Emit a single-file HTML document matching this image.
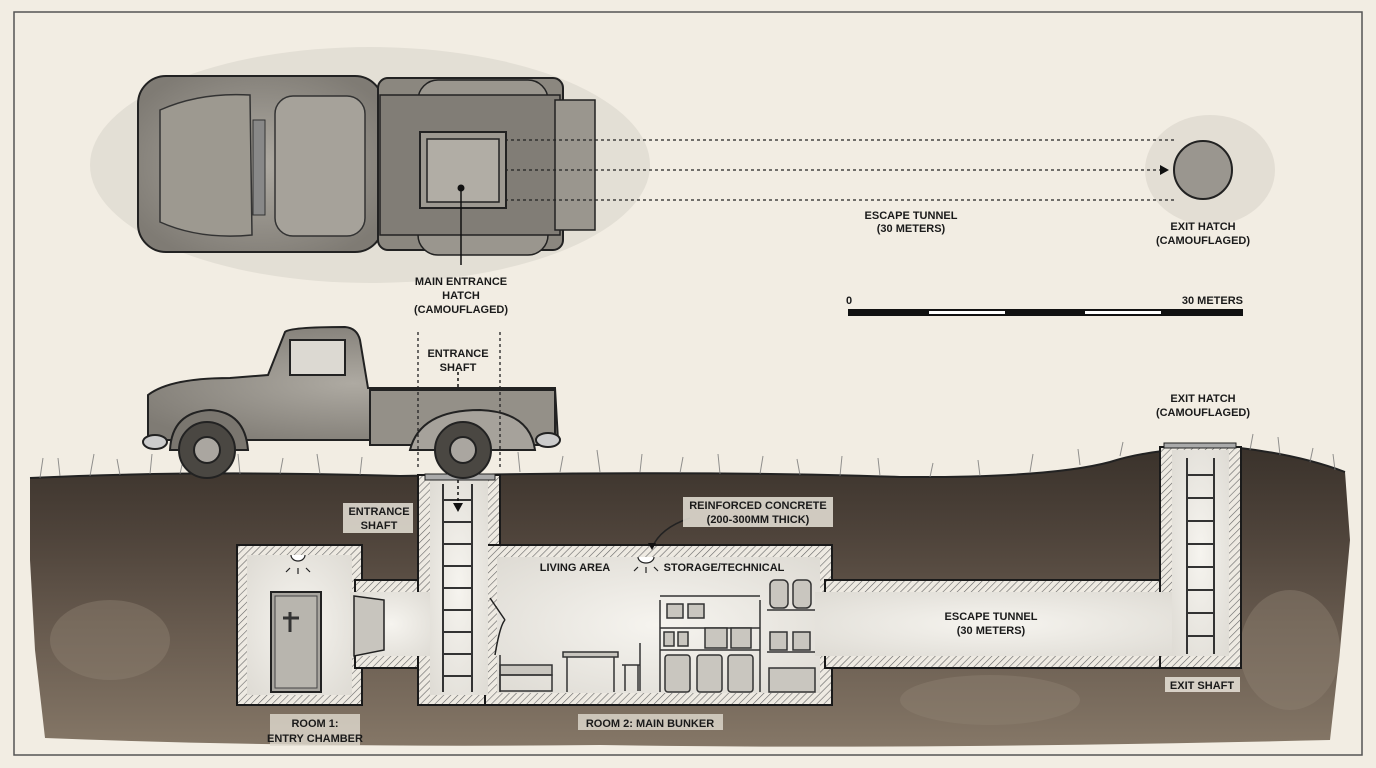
<!DOCTYPE html>
<html><head><meta charset="utf-8"><style>
html,body{margin:0;padding:0;background:#f2ede3}
svg{display:block}
text{font-family:"Liberation Sans",sans-serif;font-weight:bold;fill:#1a1a1a}
</style></head><body>
<svg width="1376" height="768" viewBox="0 0 1376 768" xmlns="http://www.w3.org/2000/svg">
<defs>
<pattern id="hatch" width="5" height="5" patternUnits="userSpaceOnUse" patternTransform="rotate(45)">
<rect width="5" height="5" fill="#eeeae2"/><line x1="0" y1="0" x2="0" y2="5" stroke="#666" stroke-width="1.2"/></pattern>
<linearGradient id="soil" x1="0" y1="0" x2="0" y2="1">
<stop offset="0" stop-color="#3a322b"/><stop offset="0.3" stop-color="#4f443b"/><stop offset="0.6" stop-color="#675a4e"/><stop offset="1" stop-color="#857767"/></linearGradient>
<radialGradient id="room" cx="0.5" cy="0.5" r="0.7"><stop offset="0" stop-color="#f6f4ef"/><stop offset="1" stop-color="#dedbd4"/></radialGradient>
<radialGradient id="rust" cx="0.5" cy="0.5" r="0.6"><stop offset="0" stop-color="#aeaaa2"/><stop offset="1" stop-color="#7f7b74"/></radialGradient>
</defs>
<rect x="0" y="0" width="1376" height="768" fill="#f2ede3"/>
<rect x="14" y="12" width="1348" height="743" fill="none" stroke="#555" stroke-width="1.5"/>

<ellipse cx="370" cy="165" rx="280" ry="118" fill="#ddd8ce" opacity="0.7"/>
<ellipse cx="1210" cy="170" rx="65" ry="55" fill="#dfdacf" opacity="0.8"/>
<rect x="138" y="76" width="245" height="176" rx="28" fill="url(#rust)" stroke="#222" stroke-width="2"/>
<path d="M160 110 Q200 92 250 95 L252 235 Q200 240 160 222 Z" fill="#9d9990" stroke="#333" stroke-width="1.5"/>
<rect x="275" y="96" width="90" height="140" rx="18" fill="#a6a29a" stroke="#333" stroke-width="1.5"/>
<rect x="253" y="120" width="12" height="95" fill="#888" stroke="#333"/>
<rect x="378" y="78" width="185" height="172" rx="10" fill="#8b877f" stroke="#222" stroke-width="2"/>
<rect x="418" y="80" width="130" height="175" rx="20" fill="#9a968e" stroke="#222" stroke-width="1.5"/>
<rect x="380" y="95" width="180" height="140" fill="#817d76" stroke="#222" stroke-width="1.5"/>
<rect x="555" y="100" width="40" height="130" fill="#9a968e" stroke="#222" stroke-width="1.5"/>
<rect x="420" y="132" width="86" height="76" fill="#9d9991" stroke="#222" stroke-width="2"/>
<rect x="427" y="139" width="72" height="63" fill="#b1ada5" stroke="#222" stroke-width="1.5"/>
<circle cx="461" cy="188" r="3.5" fill="#111"/>
<line x1="461" y1="188" x2="461" y2="265" stroke="#111" stroke-width="1.5"/>
<g stroke="#222" stroke-width="1.3" stroke-dasharray="3,3" fill="none">
<line x1="505" y1="140" x2="1175" y2="140"/><line x1="505" y1="170" x2="1163" y2="170"/><line x1="505" y1="200" x2="1175" y2="200"/></g>
<path d="M1160 165 L1169 170 L1160 175 Z" fill="#111"/>
<circle cx="1203" cy="170" r="29" fill="#9a968f" stroke="#222" stroke-width="2"/>
<text x="461" y="285" font-size="11" text-anchor="middle">MAIN ENTRANCE</text>
<text x="461" y="299" font-size="11" text-anchor="middle">HATCH</text>
<text x="461" y="313" font-size="11" text-anchor="middle">(CAMOUFLAGED)</text>
<text x="911" y="219" font-size="11" text-anchor="middle">ESCAPE TUNNEL</text>
<text x="911" y="232" font-size="11" text-anchor="middle">(30 METERS)</text>
<text x="1203" y="230" font-size="11" text-anchor="middle">EXIT HATCH</text>
<text x="1203" y="244" font-size="11" text-anchor="middle">(CAMOUFLAGED)</text>
<text x="846" y="304" font-size="11">0</text>
<text x="1243" y="304" font-size="11" text-anchor="end">30 METERS</text>
<rect x="848" y="309" width="395" height="7" fill="#111"/>
<rect x="929" y="311" width="76" height="3" fill="#fff"/>
<rect x="1085" y="311" width="76" height="3" fill="#fff"/>

<path d="M30 478 Q200 470 400 476 Q700 470 900 477 Q1050 478 1110 462 Q1160 446 1240 448 Q1300 455 1345 472 L1350 540 L1340 650 L1330 740 Q900 750 600 745 Q300 748 45 738 L35 650 L30 560 Z" fill="url(#soil)"/>
<path d="M30 478 Q200 470 400 476 Q700 470 900 477 Q1050 478 1110 462 Q1160 446 1240 448 Q1300 455 1345 472" fill="none" stroke="#222" stroke-width="2"/>
<g fill="#8f8172" opacity="0.45"><ellipse cx="110" cy="640" rx="60" ry="40"/><ellipse cx="1290" cy="650" rx="50" ry="60"/><ellipse cx="990" cy="700" rx="90" ry="25"/></g>
<g stroke="#777" stroke-width="1" opacity="0.8">
<path d="M40 478 l3 -20 M60 476 l-2 -18 M90 476 l4 -22 M120 475 l-3 -16 M150 474 l2 -20 M180 474 l4 -18 M240 474 l-2 -20 M280 474 l3 -16 M320 474 l-3 -20 M360 475 l2 -18 M520 472 l-2 -20 M560 472 l3 -16 M600 472 l-3 -22 M640 472 l2 -18 M680 473 l3 -16 M720 474 l-2 -20 M760 474 l3 -18 M800 475 l-3 -16 M840 476 l2 -20 M880 476 l-2 -18 M930 477 l3 -14 M980 476 l-2 -16 M1030 472 l3 -18 M1080 465 l-2 -16 M1120 456 l3 -14 M1250 450 l3 -16 M1280 455 l-2 -18 M1310 462 l3 -14 M1335 470 l-2 -16"/></g>

<g fill="url(#hatch)" stroke="#1a1a1a" stroke-width="2">
<rect x="237" y="545" width="125" height="160"/>
<rect x="355" y="580" width="70" height="88"/>
<rect x="418" y="475" width="82" height="230"/>
<rect x="485" y="545" width="347" height="160"/>
<rect x="825" y="580" width="345" height="88"/>
<rect x="1160" y="447" width="81" height="221"/>
</g>
<g fill="url(#room)">
<rect x="247" y="555" width="105" height="140"/>
<rect x="350" y="592" width="82" height="64"/>
<rect x="430" y="480" width="58" height="215"/>
<rect x="497" y="557" width="323" height="136"/>
<rect x="815" y="592" width="360" height="64"/>
<rect x="1172" y="450" width="57" height="206"/>
</g>
<rect x="425" y="474" width="70" height="6" fill="#aaa" stroke="#222"/>
<rect x="1164" y="443" width="72" height="5" fill="#aaa" stroke="#222"/>
<g stroke="#333" stroke-width="2" fill="none">
<line x1="443" y1="484" x2="443" y2="692"/><line x1="472" y1="484" x2="472" y2="692"/>
<path d="M443 500h29M443 522h29M443 544h29M443 566h29M443 588h29M443 610h29M443 632h29M443 654h29M443 676h29"/>
<line x1="1187" y1="458" x2="1187" y2="654"/><line x1="1214" y1="458" x2="1214" y2="654"/>
<path d="M1187 475h27M1187 498h27M1187 521h27M1187 544h27M1187 567h27M1187 590h27M1187 613h27M1187 636h27"/>
</g>
<line x1="458" y1="372" x2="458" y2="505" stroke="#111" stroke-width="1.5" stroke-dasharray="3,3"/>
<path d="M453 503 L458 512 L463 503 Z" fill="#111"/>
<rect x="271" y="592" width="50" height="100" fill="#a8a59f" stroke="#222" stroke-width="2"/>
<rect x="275" y="596" width="42" height="92" fill="#b8b5ae" stroke="#444"/>
<path d="M290 612v20M283 618h16" stroke="#333" stroke-width="3"/>
<path d="M354 596 L384 600 L384 650 L354 656 Z" fill="#c8c5be" stroke="#222" stroke-width="1.5"/>
<g stroke="#222" stroke-width="1.2"><path d="M291 555 a7 6 0 0 0 14 0" fill="#fff"/><path d="M290 568l-4 4M298 568v6M306 568l4 4"/>
<path d="M638 557 a8 6 0 0 0 16 0" fill="#fff"/><path d="M638 567l-4 4M646 567v6M654 567l4 4"/></g>
<g stroke="#333" stroke-width="1.5" fill="#c9c6bf">
<rect x="500" y="665" width="52" height="10"/><rect x="500" y="675" width="52" height="16" fill="none"/><line x1="500" y1="655" x2="500" y2="692"/>
<rect x="563" y="652" width="55" height="5"/><path d="M567 657v35M614 657v35" fill="none"/>
<path d="M640 643v48M622 665h18M625 665v26M638 665v26" fill="none"/>
<path d="M660 600v92M760 600v92M660 596h100M660 628h100M660 650h100" fill="none"/>
<rect x="667" y="604" width="16" height="14"/><rect x="688" y="604" width="16" height="14"/>
<rect x="664" y="632" width="10" height="14"/><rect x="678" y="632" width="10" height="14"/><rect x="705" y="628" width="22" height="20"/><rect x="731" y="628" width="20" height="20"/>
<rect x="665" y="655" width="25" height="37" rx="3"/><rect x="697" y="655" width="25" height="37" rx="3"/><rect x="728" y="655" width="25" height="37" rx="3"/>
<rect x="770" y="580" width="18" height="28" rx="5"/><rect x="793" y="580" width="18" height="28" rx="5"/><line x1="767" y1="610" x2="815" y2="610"/>
<rect x="770" y="632" width="17" height="18"/><rect x="793" y="632" width="17" height="18"/><line x1="767" y1="652" x2="815" y2="652"/>
<rect x="769" y="668" width="46" height="24"/>
</g>
<path d="M490 598 L505 620 M495 655 Q500 625 505 620" stroke="#222" stroke-width="1.5" fill="none"/>
<path d="M690 518 Q660 528 652 548" stroke="#222" stroke-width="1.5" fill="none"/><path d="M648 543 L652 550 L656 543Z" fill="#111"/>

<g stroke="#222" stroke-width="2">
<path d="M148 395 Q170 378 230 378 L268 375 L285 332 Q290 327 345 327 Q357 328 360 340 L368 388 L555 388 L558 440 L148 440 Z" fill="url(#rust)"/>
<rect x="290" y="340" width="55" height="35" fill="#dcd9d2"/>
<path d="M370 390 L555 390 L555 445 L370 445 Z" fill="#949088"/>
<path d="M410 450 Q420 410 480 410 Q530 412 535 450 Z" fill="#a6a29b"/>
<path d="M170 450 Q172 412 210 410 Q245 412 248 450 Z" fill="#7a766f"/>
<circle cx="207" cy="450" r="28" fill="#4a4742"/><circle cx="207" cy="450" r="13" fill="#aaa6a0"/>
<circle cx="463" cy="450" r="28" fill="#4a4742"/><circle cx="463" cy="450" r="13" fill="#aaa6a0"/>
<ellipse cx="155" cy="442" rx="12" ry="7" fill="#ccc"/><ellipse cx="548" cy="440" rx="12" ry="7" fill="#ccc"/>
</g>
<line x1="418" y1="332" x2="418" y2="470" stroke="#222" stroke-width="1.3" stroke-dasharray="3,3"/>
<line x1="500" y1="332" x2="500" y2="470" stroke="#222" stroke-width="1.3" stroke-dasharray="3,3"/>

<text x="458" y="357" font-size="11" text-anchor="middle">ENTRANCE</text>
<text x="458" y="371" font-size="11" text-anchor="middle">SHAFT</text>
<g font-size="11" text-anchor="middle">
<rect x="343" y="503" width="70" height="30" fill="#e8e3d8" opacity="0.85"/>
<text x="379" y="515">ENTRANCE</text><text x="379" y="529">SHAFT</text>
<rect x="683" y="497" width="150" height="30" fill="#e8e3d8" opacity="0.85"/>
<text x="758" y="509">REINFORCED CONCRETE</text><text x="758" y="523">(200-300MM THICK)</text>
<text x="575" y="571">LIVING AREA</text>
<text x="724" y="571">STORAGE/TECHNICAL</text>
<text x="991" y="620">ESCAPE TUNNEL</text><text x="991" y="634">(30 METERS)</text>
<text x="1203" y="402">EXIT HATCH</text><text x="1203" y="416">(CAMOUFLAGED)</text>
<rect x="1165" y="677" width="75" height="15" fill="#e8e3d8" opacity="0.85"/>
<text x="1202" y="689">EXIT SHAFT</text>
<rect x="270" y="714" width="90" height="32" fill="#e0dbd0" opacity="0.8"/>
<text x="315" y="727">ROOM 1:</text><text x="315" y="742">ENTRY CHAMBER</text>
<rect x="578" y="714" width="145" height="16" fill="#e0dbd0" opacity="0.8"/>
<text x="650" y="727">ROOM 2: MAIN BUNKER</text>
</g>
</svg>
</body></html>
